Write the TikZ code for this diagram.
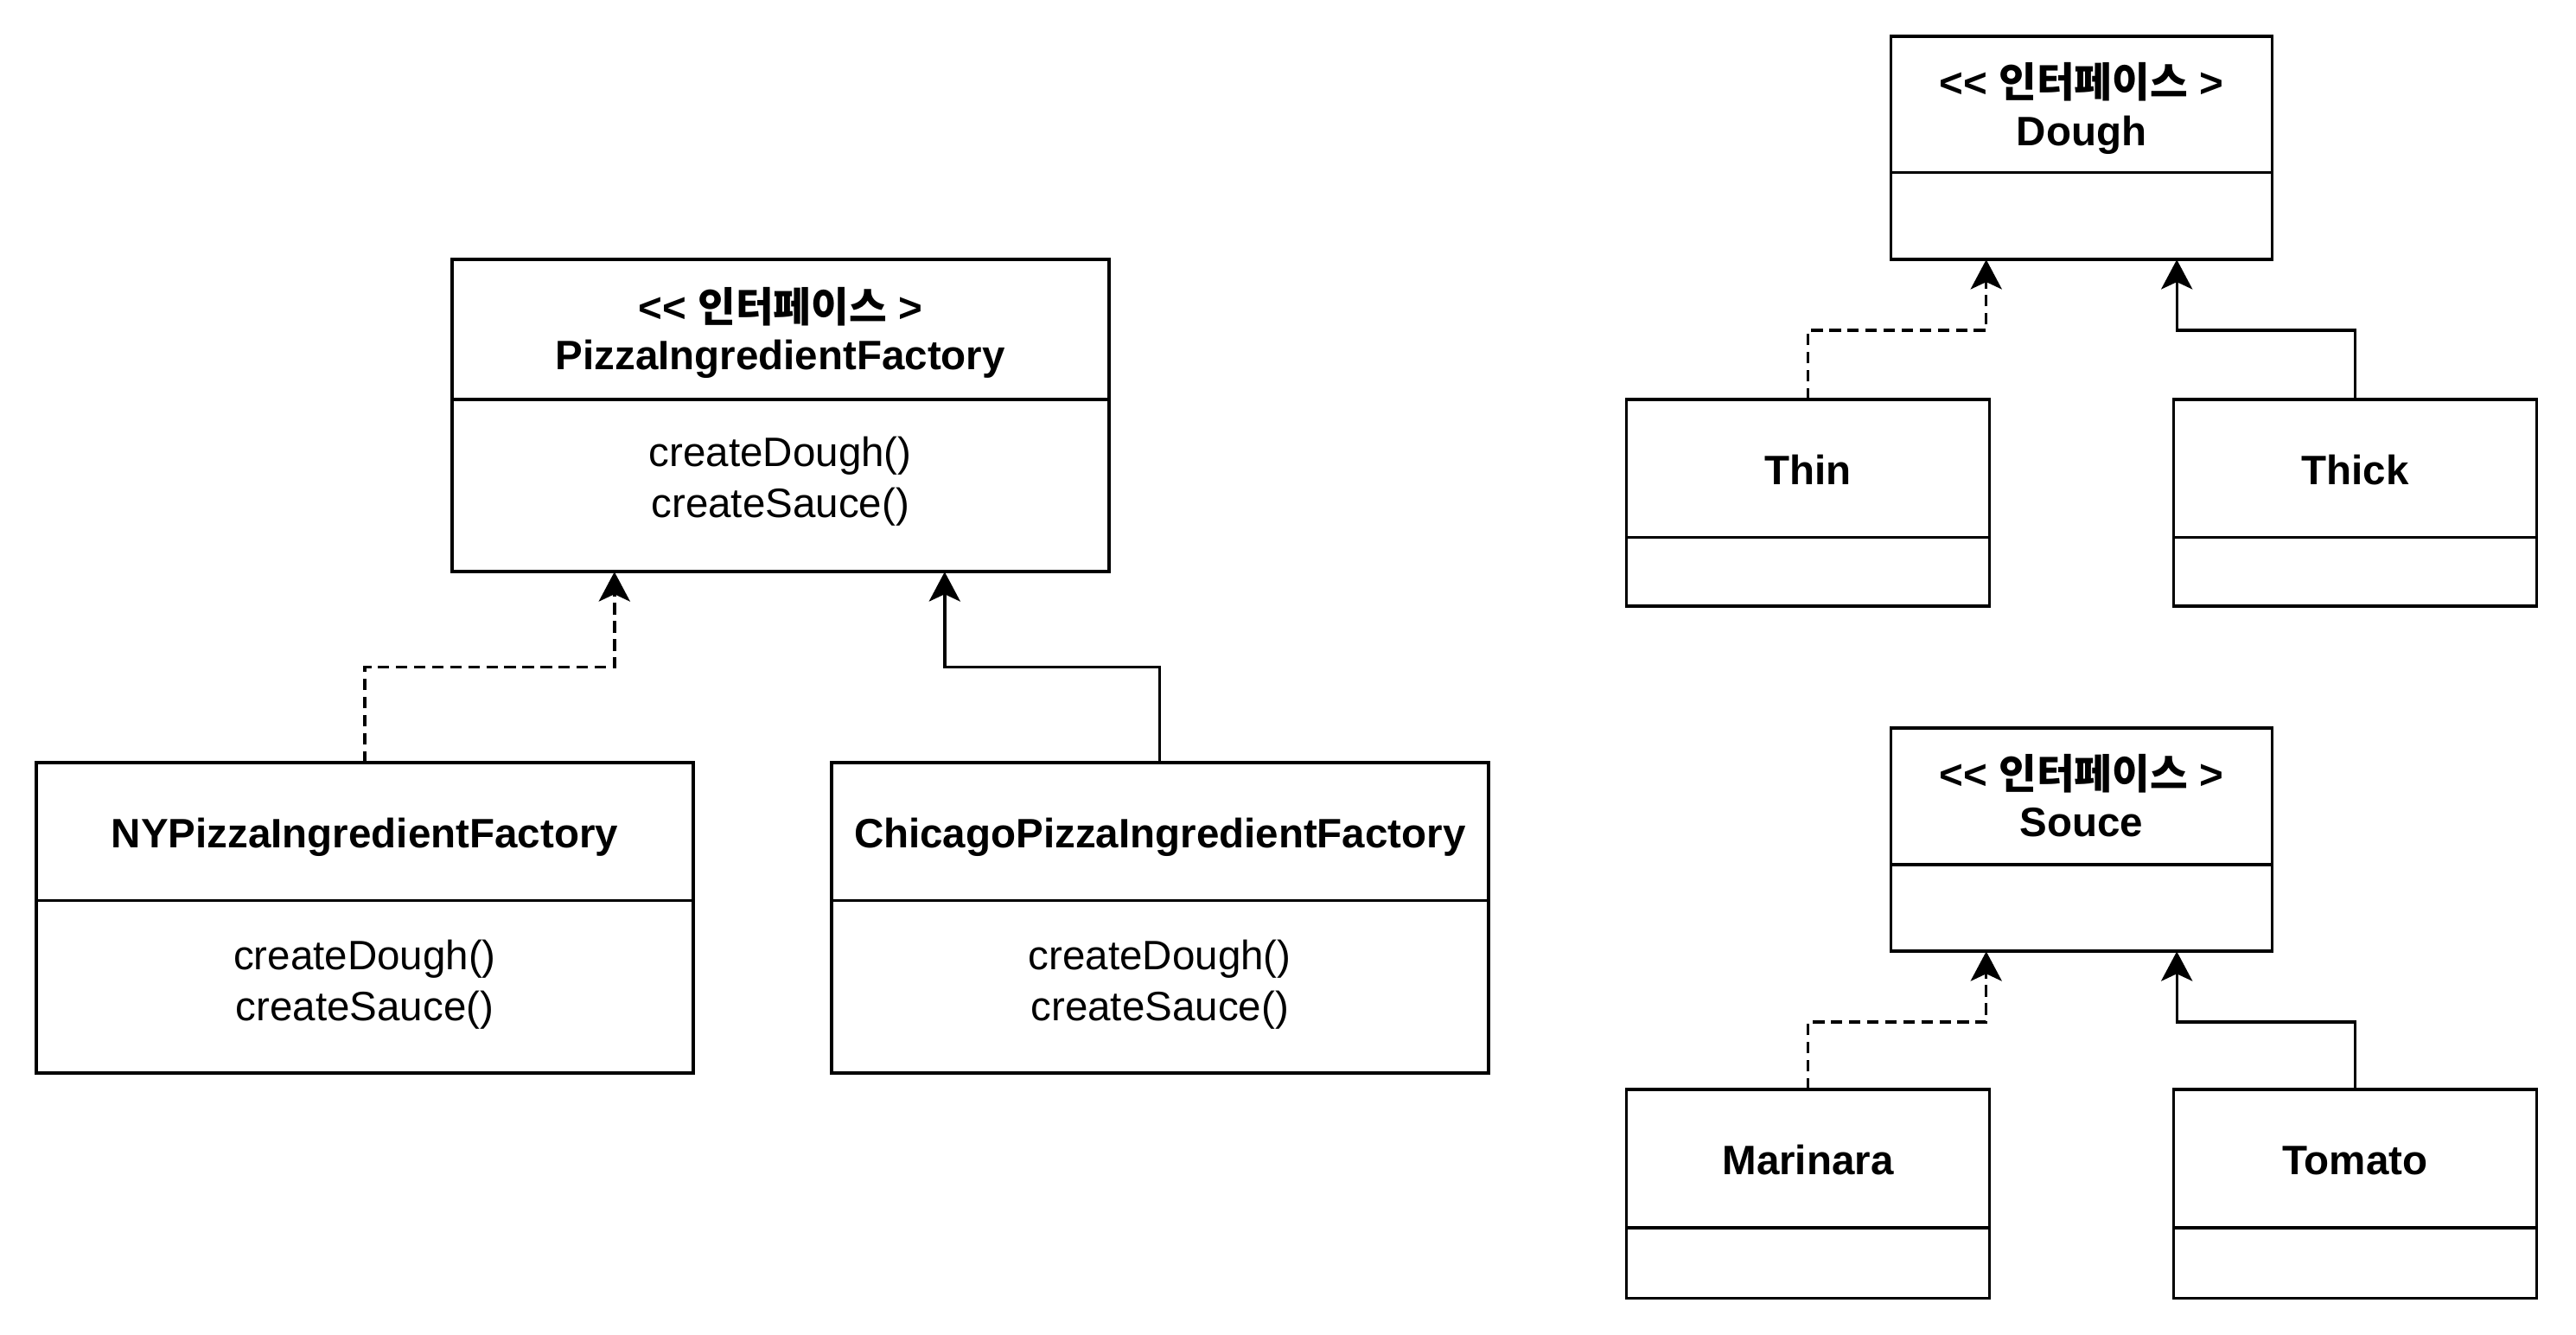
\documentclass[tikz,border=0pt]{standalone}
\usepackage{fontspec}
\setmainfont{Liberation Sans}
\newfontfamily\kr{Noto Sans CJK KR}
\usetikzlibrary{arrows.meta}
\tikzset{
  umlbox/.style={draw, line width=1pt, outer sep=0pt, inner sep=0pt, fill=white},
  ttl/.style={anchor=base, inner sep=0pt, font=\bfseries\fontsize{12.5pt}{15pt}\selectfont},
  mth/.style={anchor=base, inner sep=0pt, font=\fontsize{12.5pt}{15pt}\selectfont},
  conn/.style={line width=0.9pt, -{Stealth[length=9pt,width=9.5pt,inset=2.2pt]}},
  realize/.style={conn, dash pattern=on 3.5pt off 2pt},
  divider/.style={line width=1pt},
}
\newcommand{\stereo}{<\kern0pt< {\kr 인터페이스} >}
\begin{document}
\begin{tikzpicture}[x=0.5pt,y=-0.5pt]
\useasboundingbox (0,0) rectangle (1568,812);

% ---- Pizza ingredient factories ----
\node[umlbox, minimum width=200pt, minimum height=95pt] (main) at (475,253) {};
\draw[divider] (main.west |- 0,243) -- (main.east |- 0,243);
\node[ttl] (mainS) at (475,196) {\stereo};
\node[ttl] (mainN) at (475,225) {PizzaIngredientFactory};
\node[mth] (mainM1) at (475,284) {createDough()};
\node[mth] (mainM2) at (475,315) {createSauce()};

\node[umlbox, minimum width=200pt, minimum height=94.5pt] (ny) at (222,558.5) {};
\draw[divider] (ny.west |- 0,548) -- (ny.east |- 0,548);
\node[ttl] (nyN) at (222,516) {NYPizzaIngredientFactory};
\node[mth] (nyM1) at (222,590) {createDough()};
\node[mth] (nyM2) at (222,621) {createSauce()};

\node[umlbox, minimum width=200pt, minimum height=94.5pt] (chi) at (706,558.5) {};
\draw[divider] (chi.west |- 0,548) -- (chi.east |- 0,548);
\node[ttl] (chiN) at (706,516) {ChicagoPizzaIngredientFactory};
\node[mth] (chiM1) at (706,590) {createDough()};
\node[mth] (chiM2) at (706,621) {createSauce()};

\draw[realize] (ny.north) |- (374,406) -- (main.south -| 374,0);
\draw[conn] (chi.north) |- (575,406) -- (main.south -| 575,0);

% ---- Dough ----
\node[umlbox, minimum width=116pt, minimum height=68pt] (dough) at (1267,90) {};
\draw[divider] (dough.west |- 0,105) -- (dough.east |- 0,105);
\node[ttl] (doughS) at (1267,59) {\stereo};
\node[ttl] (doughN) at (1267,88.5) {Dough};

\node[umlbox, minimum width=110.5pt, minimum height=63pt] (thin) at (1100.5,306) {};
\draw[divider] (thin.west |- 0,327) -- (thin.east |- 0,327);
\node[ttl] (thinN) at (1100.5,295) {Thin};

\node[umlbox, minimum width=110.5pt, minimum height=63pt] (thick) at (1433.5,306) {};
\draw[divider] (thick.west |- 0,327) -- (thick.east |- 0,327);
\node[ttl] (thickN) at (1433.5,295) {Thick};

\draw[realize] (thin.north) |- (1209,201) -- (dough.south -| 1209,0);
\draw[conn] (thick.north) |- (1325,201) -- (dough.south -| 1325,0);

% ---- Souce ----
\node[umlbox, minimum width=116pt, minimum height=68pt] (souce) at (1267,511) {};
\draw[divider] (souce.west |- 0,526) -- (souce.east |- 0,526);
\node[ttl] (souceS) at (1267,480) {\stereo};
\node[ttl] (souceN) at (1267,509) {Souce};

\node[umlbox, minimum width=110.5pt, minimum height=63.5pt] (mari) at (1100.5,726.5) {};
\draw[divider] (mari.west |- 0,747) -- (mari.east |- 0,747);
\node[ttl] (mariN) at (1100.5,715) {Marinara};

\node[umlbox, minimum width=110.5pt, minimum height=63.5pt] (toma) at (1433.5,726.5) {};
\draw[divider] (toma.west |- 0,747) -- (toma.east |- 0,747);
\node[ttl] (tomaN) at (1433.5,715) {Tomato};

\draw[realize] (mari.north) |- (1209,622) -- (souce.south -| 1209,0);
\draw[conn] (toma.north) |- (1325,622) -- (souce.south -| 1325,0);
\end{tikzpicture}
\end{document}
